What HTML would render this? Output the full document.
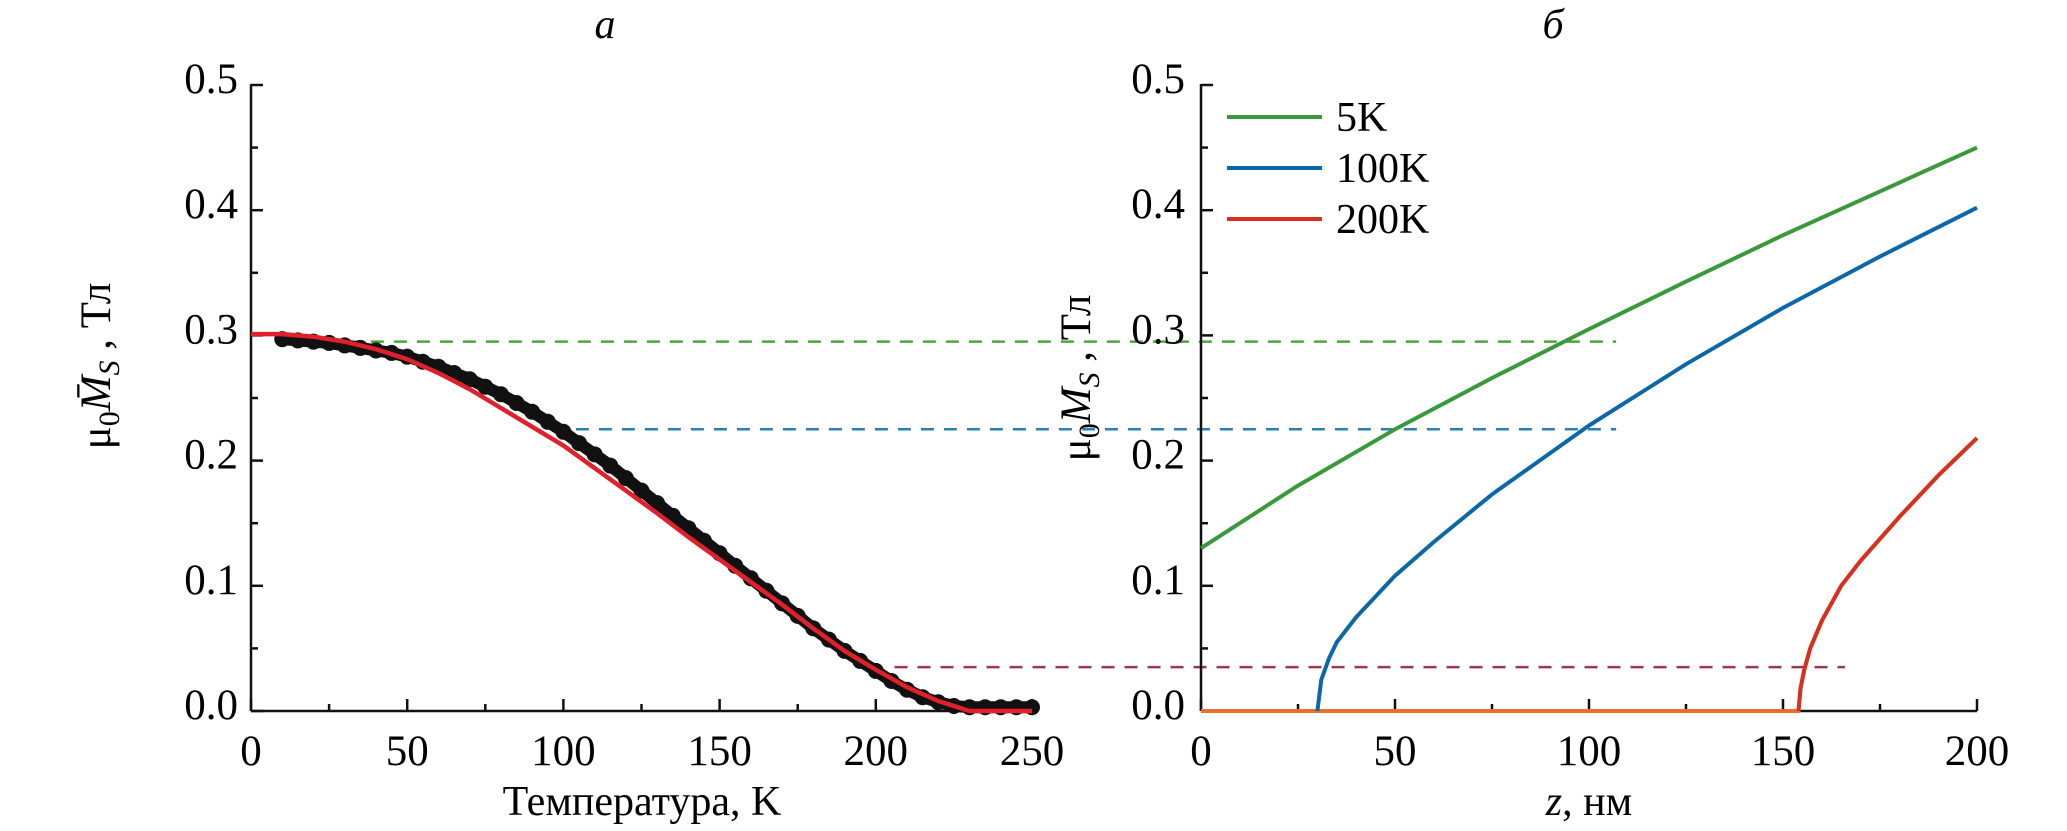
<!DOCTYPE html>
<html><head><meta charset="utf-8"><style>
html,body{margin:0;padding:0;background:#fff;}
svg{display:block;font-family:"Liberation Serif",serif;}
</style></head><body>
<svg id="fig" width="2067" height="831" viewBox="0 0 2067 831">
<g id="panelA"></g>
<g id="panelB"></g>
</svg>
<script>
// ---- Panel a data ----
const tempMeasured = [10,15,20,25,30,35,40,45,50,55,60,65,70,75,80,85,90,95,100,105,110,115,120,125,130,135,140,145,150,155,160,165,170,175,180,185,190,195,200,205,210,215,220,225,230,235,240,245,250];
const msMeasured = [.297,.296,.295,.294,.292,.290,.288,.286,.283,.279,.275,.270,.265,.259,.253,.246,.239,.231,.223,.214,.205,.196,.186,.176,.166,.156,.146,.136,.126,.116,.106,.096,.086,.076,.066,.057,.048,.040,.032,.024,.017,.011,.007,.004,.003,.003,.003,.003,.003];
const tempFit = [0,10,20,30,40,50,60,70,80,90,100,110,120,130,140,150,160,170,180,190,200,210,220,230,240,250];
const msFit = [.301,.301,.299,.295,.289,.281,.270,.257,.242,.227,.212,.194,.176,.158,.139,.121,.103,.085,.066,.048,.033,.019,.008,0,0,0];
const xTicksA = [0,50,100,150,200,250];
const yTicks = [0,0.1,0.2,0.3,0.4,0.5];
const levelGreen = 0.295, levelBlue = 0.225, levelRed = 0.035;
const levelStartT = [31,104,206];
// ---- Panel b data ----
const zTicks = [0,50,100,150,200];
const z5K = [0,25,50,75,100,125,150,175,200];
const m5K = [.130,.180,.225,.266,.305,.343,.380,.415,.450];
const z100K = [30,31,33,35,40,50,60,75,100,125,150,175,200];
const m100K = [0,.025,.042,.055,.075,.108,.135,.173,.228,.277,.322,.363,.402];
const z200K = [0,154,154.5,155.5,157,160,165,170,180,190,200];
const m200K = [0,0,.018,.033,.050,.072,.100,.120,.155,.188,.218];
const legendLabels = ['5K','100K','200K'];

const NS='http://www.w3.org/2000/svg';
function mk(parent,tag,attrs,text){const e=document.createElementNS(NS,tag);for(const k in attrs)e.setAttribute(k,attrs[k]);if(text!==undefined)e.textContent=text;parent.appendChild(e);return e;}
const y0=711, yPer=1252;
const yS=v=>y0-v*yPer;
const xA=t=>251+t*3.124;
const xB=z=>1201+z*3.88;

function axes(g,xs,ticks,minorStep,maxV,xEnd,labelRight){
  const ax0=xs(0);
  const l1=mk(g,'line',{x1:ax0,y1:yS(0.5)-1,x2:ax0,y2:y0,stroke:'#111','stroke-width':2.5});
  
  const l2=mk(g,'line',{x1:ax0,y1:y0,x2:xEnd,y2:y0,stroke:'#111','stroke-width':2.5});
  
  for(let v=0;v<=0.5001;v+=0.05){const major=Math.abs(Math.round(v*10)-v*10)<1e-6;
    const t=mk(g,'line',{x1:ax0,y1:yS(v),x2:ax0+(major?12:7),y2:yS(v),stroke:'#111','stroke-width':2.5});
    }
  yTicks.forEach(v=>{const t=mk(g,'text',{x:ax0-labelRight,y:yS(v)+8,'text-anchor':'end','font-size':43},v.toFixed(1));
    });
  for(let v=0;v<=maxV+0.001;v+=minorStep){const major=ticks.includes(v);
    const t=mk(g,'line',{x1:xs(v),y1:y0,x2:xs(v),y2:y0-(major?12:7),stroke:'#111','stroke-width':2.5});
    }
  ticks.forEach(v=>{const t=mk(g,'text',{x:xs(v),y:765,'text-anchor':'middle','font-size':43},String(v));
    });
}
function poly(g,xs,arrX,arrY,color,w,name){
  const d=arrX.map((x,i)=>(i?'L':'M')+xs(x).toFixed(1)+','+yS(arrY[i]).toFixed(1)).join('');
  const p=mk(g,'path',{d:d,fill:'none',stroke:color,'stroke-width':w,'stroke-linejoin':'round'});
  return p;
}
const A=document.getElementById('panelA'), B=document.getElementById('panelB');
let t=mk(A,'text',{x:605,y:38,'text-anchor':'middle','font-size':42,'font-style':'italic'},'а');

t=mk(B,'text',{x:1553,y:38,'text-anchor':'middle','font-size':42,'font-style':'italic'},'б');


axes(A,xA,xTicksA,25,250,1032,13);
axes(B,xB,zTicks,25,200,1977,16);

const dl=[[levelGreen,'#4aa83a',xA(levelStartT[0]),xB(107),'dashed-level-green'],[levelBlue,'#2a7fb8',xA(levelStartT[1]),xB(107),'dashed-level-blue'],[levelRed,'#9a3a4a',xA(levelStartT[2]),xB(166),'dashed-level-red']];
dl.forEach(d=>{const l=mk(A,'line',{x1:d[2],y1:yS(d[0]),x2:d[3],y2:yS(d[0]),stroke:d[1],'stroke-width':2.5,'stroke-dasharray':'13,10'});
  });

poly(A,xA,tempMeasured,msMeasured,'#111',12,'measured-line');
tempMeasured.forEach((tv,i)=>{const c=mk(A,'circle',{cx:xA(tv),cy:yS(msMeasured[i]),r:8,fill:'#111'});
  });
poly(A,xA,tempFit,msFit,'#e0202a',4.5,'fit-curve');

let yt=mk(A,'text',{transform:'translate(110,366) rotate(-90)','text-anchor':'middle','font-size':43});

yt.innerHTML='μ<tspan font-size="30" dy="9">0</tspan><tspan dy="-9" font-style="italic">M&#772;</tspan><tspan font-size="30" dy="9" font-style="italic">S</tspan><tspan dy="-9"> , Тл</tspan>';
yt=mk(B,'text',{transform:'translate(1090,378) rotate(-90)','text-anchor':'middle','font-size':43});

yt.innerHTML='μ<tspan font-size="30" dy="9">0</tspan><tspan dy="-9" font-style="italic">M</tspan><tspan font-size="30" dy="9" font-style="italic">S</tspan><tspan dy="-9"> , Тл</tspan>';
t=mk(A,'text',{x:642,y:815,'text-anchor':'middle','font-size':42},'Температура, K');

t=mk(B,'text',{x:1589,y:815,'text-anchor':'middle','font-size':42});

t.innerHTML='<tspan font-style="italic">z</tspan>, нм';

poly(B,xB,z200K,m200K,'#e8702a',4,'curve-200k-zero');
poly(B,xB,z200K.slice(1),m200K.slice(1),'#d83020',4,'curve-200k');
poly(B,xB,z100K,m100K,'#0a68a8',4,'curve-100k');
poly(B,xB,z5K,m5K,'#3a9a3a',4,'curve-5k');

const lc=['#3a9a3a','#0a68a8','#d83020'], ly=[117,168,219];
legendLabels.forEach((lab,i)=>{
  const l=mk(B,'line',{x1:1227,y1:ly[i],x2:1322,y2:ly[i],stroke:lc[i],'stroke-width':4});
  
  const tx=mk(B,'text',{x:1336,y:ly[i]+14,'font-size':42},lab);
  
});
</script>
</body></html>
